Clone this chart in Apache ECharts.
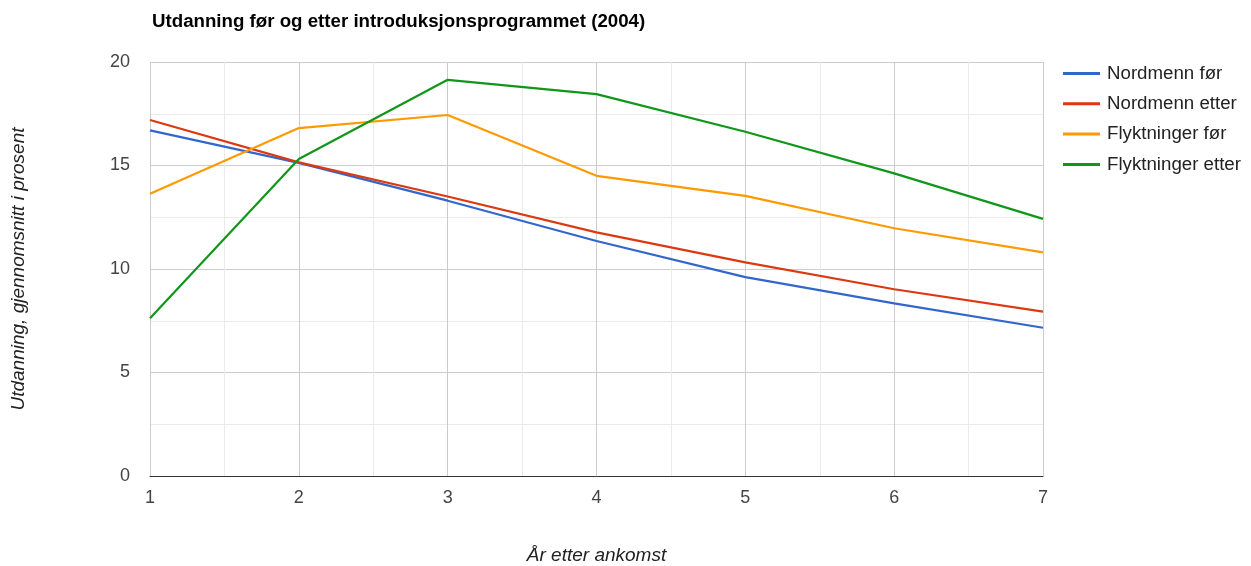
<!DOCTYPE html>
<html>
<head>
<meta charset="utf-8">
<script src="https://cdn.jsdelivr.net/npm/echarts@6/dist/echarts.min.js"></script>
<style>html,body{margin:0;padding:0;background:#fff}#c{width:1251px;height:566px}</style>
</head>
<body>
<div id="c"></div>
<script>
var years = [1, 2, 3, 4, 5, 6, 7];
var seriesNames = ['Nordmenn før', 'Nordmenn etter', 'Flyktninger før', 'Flyktninger etter'];
var nordmennFor = [16.7, 15.13, 13.3, 11.35, 9.61, 8.34, 7.16];
var nordmennEtter = [17.2, 15.15, 13.5, 11.77, 10.32, 9.02, 7.94];
var flyktningerFor = [13.64, 16.81, 17.44, 14.5, 13.53, 11.97, 10.8];
var flyktningerEtter = [7.62, 15.31, 19.14, 18.45, 16.63, 14.62, 12.42];
var colors = ['#3366cc', '#dc3912', '#ff9900', '#109618'];
var yTicks = [0, 5, 10, 15, 20];

var allValues = [nordmennFor, nordmennEtter, flyktningerFor, flyktningerEtter];
var font = 'Arial, "Liberation Sans", sans-serif';

var chart = echarts.init(document.getElementById('c'), null, {renderer: 'canvas'});
chart.setOption({
  animation: false,
  color: colors,
  title: {
    text: 'Utdanning før og etter introduksjonsprogrammet (2004)',
    left: 147, top: 7,
    textStyle: {fontFamily: font, fontSize: 18.7, fontWeight: 'bold', color: '#000'}
  },
  legend: {
    orient: 'vertical',
    left: 1058, top: 59,
    itemWidth: 37, itemHeight: 3, itemGap: 11.3,
    icon: 'rect',
    data: seriesNames,
    textStyle: {fontFamily: font, fontSize: 18.7, lineHeight: 19, color: '#222', padding: [0, 0, 0, 2]}
  },
  grid: {left: 150, right: 208, top: 62, bottom: 90, containLabel: false, outerBoundsMode: 'none'},
  xAxis: {
    type: 'value', min: years[0], max: years[years.length - 1], interval: 1,
    name: 'År etter ankomst', nameLocation: 'middle', nameGap: 70,
    nameTextStyle: {fontFamily: font, fontSize: 19, fontStyle: 'italic', color: '#222'},
    axisLine: {show: true, onZero: false, lineStyle: {color: '#333', width: 1}},
    axisTick: {show: false},
    axisLabel: {fontFamily: font, fontSize: 18, color: '#444', margin: 13},
    splitLine: {show: true, lineStyle: {color: '#cccccc', width: 1}},
    minorTick: {show: false, splitNumber: 2},
    minorSplitLine: {show: true, lineStyle: {color: '#ebebeb', width: 1}}
  },
  yAxis: {
    type: 'value', min: yTicks[0], max: yTicks[yTicks.length - 1], interval: 5,
    name: 'Utdanning, gjennomsnitt i prosent', nameLocation: 'middle', nameGap: 122,
    nameTextStyle: {fontFamily: font, fontSize: 19, fontStyle: 'italic', color: '#222'},
    axisLine: {show: false},
    axisTick: {show: false},
    axisLabel: {fontFamily: font, fontSize: 18, color: '#444', margin: 20},
    splitLine: {show: true, lineStyle: {color: '#cccccc', width: 1}},
    minorTick: {show: false, splitNumber: 2},
    minorSplitLine: {show: true, lineStyle: {color: '#ebebeb', width: 1}}
  },
  series: seriesNames.map(function (name, i) {
    return {
      name: name,
      type: 'line',
      showSymbol: false,
      symbol: 'none',
      lineStyle: {width: 2.2},
      data: years.map(function (x, j) { return [x, allValues[i][j]]; })
    };
  })
});
</script>
</body>
</html>
